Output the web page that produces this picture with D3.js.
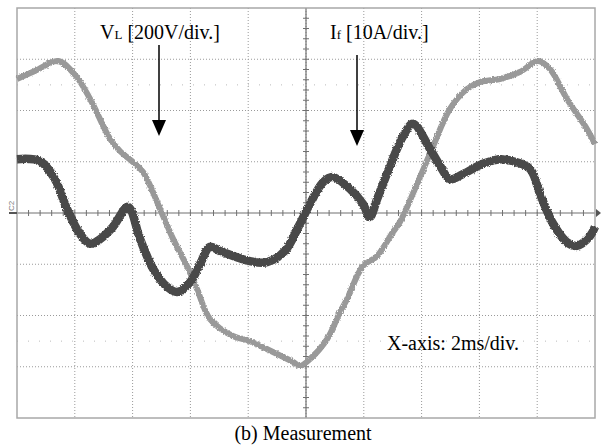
<!DOCTYPE html>
<html>
<head>
<meta charset="utf-8">
<title>Measurement</title>
<script src="https://cdn.jsdelivr.net/npm/d3@7/dist/d3.min.js"></script>
<style>
  body { margin: 0; background: #fff; }
  text { font-family: "Liberation Serif", "Times New Roman", serif; }
</style>
</head>
<body>
<script>
// time axis in ms (2 ms/div, 10 div)
var timeV = [0, 0.62, 1.42, 2.01, 2.53, 3.22, 3.56, 4.01, 4.36, 4.95, 5.40, 5.88, 6.23, 6.68, 7.47, 8.06, 8.65, 9.55, 9.79,
  10.14, 10.73, 11.18, 11.42, 11.97, 12.46, 13.01, 13.25, 13.77, 14.36, 14.98, 15.57, 16.02, 16.71, 17.40, 18.03, 18.44, 19.03, 19.72, 20];
// VL in volts (200 V/div)
var vL = [523, 554, 593, 539, 445, 289, 242, 199, 160, 16, -101, -207, -297, -414, -480, -500, -531, -581, -597,
  -570, -492, -386, -336, -207, -168, -74, -35, 94, 250, 406, 484, 511, 523, 550, 593, 562, 445, 328, 269];

var timeI = [0, 0.80, 1.31, 1.73, 2.18, 2.53, 2.87, 3.32, 3.84, 4.26, 4.71, 5.19, 5.54, 5.99, 6.33, 6.68, 7.02, 8.06, 8.65, 9.27,
  9.79, 10.14, 10.59, 10.93, 11.52, 11.97, 12.21, 12.46, 12.91, 13.36, 13.70, 14.29, 14.64, 14.98, 15.43, 16.12, 16.71, 17.16, 17.75,
  18.10, 18.55, 19.03, 19.38, 19.83, 20];
// If in amps (10 A/div)
var iF = [10.5, 10.1, 6.6, 0.8, -4.1, -6.0, -5.1, -2.7, 1.2, -5.1, -10.9, -14.4, -15.4, -13.5, -10.0, -6.6, -7.4, -9.4, -9.6, -7.4,
  -2.1, 1.8, 6.0, 7.0, 4.7, 1.8, -0.8, 2.7, 9.2, 15.0, 17.4, 12.5, 9.2, 6.6, 7.6, 9.6, 10.5, 10.1, 8.6,
  3.7, -2.1, -5.7, -6.4, -4.5, -2.7];

var timeGrid = [2, 4, 6, 8, 10, 12, 14, 16, 18];
var voltGrid = [-600, -400, -200, 200, 400, 600];

var W = 601, H = 447;
var pL = 17, pR = 595, pT = 8, pB = 418;

var svg = d3.select("body").append("svg").attr("width", W).attr("height", H);

// scope trace noise
var filt = svg.append("defs").append("filter").attr("id", "fuzz")
  .attr("x", "-5%").attr("y", "-5%").attr("width", "110%").attr("height", "110%");
filt.append("feTurbulence").attr("type", "fractalNoise").attr("baseFrequency", "0.9 0.6")
  .attr("numOctaves", 2).attr("seed", 3).attr("result", "n");
filt.append("feDisplacementMap").attr("in", "SourceGraphic").attr("in2", "n")
  .attr("scale", 3).attr("xChannelSelector", "R").attr("yChannelSelector", "G");

var x = d3.scaleLinear().domain([0, 20]).range([pL, pR]);
var yV = d3.scaleLinear().domain([-800, 800]).range([pB, pT]);
var yI = d3.scaleLinear().domain([-40, 40]).range([pB, pT]);

// grid
var grid = svg.append("g");
grid.selectAll(".vg").data(timeGrid).enter().append("line")
  .attr("x1", d => x(d)).attr("x2", d => x(d))
  .attr("y1", pT).attr("y2", pB)
  .attr("stroke", "#9a9a9a").attr("stroke-width", 1).attr("stroke-dasharray", "1,2");
grid.selectAll(".hg").data(voltGrid).enter().append("line")
  .attr("x1", pL).attr("x2", pR)
  .attr("y1", d => yV(d)).attr("y2", d => yV(d))
  .attr("stroke", "#9a9a9a").attr("stroke-width", 1).attr("stroke-dasharray", "1,2");
// faint markers at +-2.5 div
grid.selectAll(".mk").data([500, -500]).enter().append("line")
  .attr("x1", pL).attr("x2", pR)
  .attr("y1", d => yV(d)).attr("y2", d => yV(d))
  .attr("stroke", "#bbb").attr("stroke-width", 1).attr("stroke-dasharray", "1,10");

// center axes with minor ticks
grid.append("line").attr("x1", pL).attr("x2", pR)
  .attr("y1", yV(0)).attr("y2", yV(0)).attr("stroke", "#707070").attr("stroke-width", 1.2);
grid.append("line").attr("x1", x(10)).attr("x2", x(10))
  .attr("y1", pT).attr("y2", pB).attr("stroke", "#707070").attr("stroke-width", 1.2);
grid.selectAll(".tx").data(d3.range(0.4, 20, 0.4)).enter().append("line")
  .attr("x1", d => x(d)).attr("x2", d => x(d))
  .attr("y1", yV(0) - 3).attr("y2", yV(0) + 3)
  .attr("stroke", "#707070").attr("stroke-width", 1);
grid.selectAll(".ty").data(d3.range(-760, 800, 40)).enter().append("line")
  .attr("x1", x(10) - 3).attr("x2", x(10) + 3)
  .attr("y1", d => yV(d)).attr("y2", d => yV(d))
  .attr("stroke", "#707070").attr("stroke-width", 1);

// frame
svg.append("rect").attr("x", pL).attr("y", pT)
  .attr("width", pR - pL).attr("height", pB - pT)
  .attr("fill", "none").attr("stroke", "#a8a8a8").attr("stroke-width", 1.5);

// channel markers
svg.append("line").attr("x1", 9).attr("x2", pL).attr("y1", yV(0)).attr("y2", yV(0))
  .attr("stroke", "#555").attr("stroke-width", 2);
svg.append("text").attr("transform", "translate(14," + (yV(0) - 2) + ") rotate(-90)")
  .attr("font-size", 8).attr("fill", "#777").style("font-family", "Liberation Sans, sans-serif").text("C2");
svg.append("path")
  .attr("d", "M" + (pR + 1) + "," + (yV(0) - 4) + "L" + (pR + 6) + "," + yV(0) + "L" + (pR + 1) + "," + (yV(0) + 4) + "Z")
  .attr("fill", "#555");

// traces
var lineV = d3.line().x((d, i) => x(timeV[i])).y(d => yV(d)).curve(d3.curveCatmullRom.alpha(0.5));
var lineI = d3.line().x((d, i) => x(timeI[i])).y(d => yI(d)).curve(d3.curveCatmullRom.alpha(0.5));

svg.append("path").datum(vL).attr("d", lineV).attr("filter", "url(#fuzz)")
  .attr("fill", "none").attr("stroke", "#999").attr("stroke-width", 6).attr("stroke-linejoin", "round");
svg.append("path").datum(iF).attr("d", lineI).attr("filter", "url(#fuzz)")
  .attr("fill", "none").attr("stroke", "#4a4a4a").attr("stroke-width", 8.5).attr("stroke-linejoin", "round");

// labels
var lab1 = svg.append("text").attr("x", 100).attr("y", 39).attr("font-size", 20);
lab1.append("tspan").text("V");
lab1.append("tspan").attr("font-size", 13).text("L");
lab1.append("tspan").text(" [200V/div.]");

var lab2 = svg.append("text").attr("x", 330).attr("y", 39).attr("font-size", 20);
lab2.append("tspan").text("I");
lab2.append("tspan").attr("font-size", 13).text("f");
lab2.append("tspan").text(" [10A/div.]");

svg.append("text").attr("x", 387).attr("y", 350).attr("font-size", 20).text("X-axis: 2ms/div.");
svg.append("text").attr("x", 303).attr("y", 440).attr("font-size", 20)
  .attr("text-anchor", "middle").text("(b) Measurement");

// arrows
function arrow(ax, y0, y1) {
  svg.append("line").attr("x1", ax).attr("x2", ax).attr("y1", y0).attr("y2", y1 - 14)
    .attr("stroke", "#000").attr("stroke-width", 1.5);
  svg.append("path").attr("d", "M" + (ax - 7) + "," + (y1 - 16) + "L" + (ax + 7) + "," + (y1 - 16) + "L" + ax + "," + y1 + "Z")
    .attr("fill", "#000");
}
arrow(159, 45, 136);
arrow(357, 55, 146);
</script>
</body>
</html>
